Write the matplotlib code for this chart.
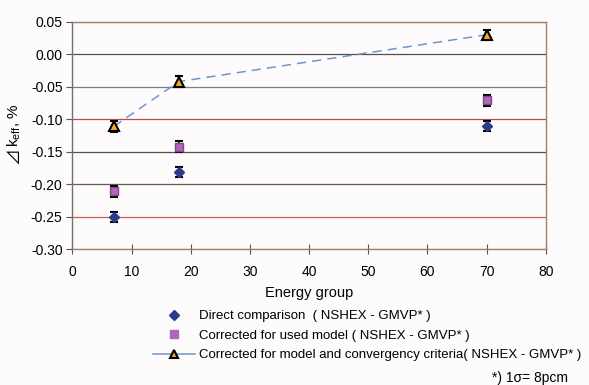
import matplotlib.pyplot as plt
from matplotlib.lines import Line2D

plt.rcParams['font.family'] = ['Liberation Sans', 'DejaVu Sans']

# energy groups
groups = [7, 18, 70]

# delta k_eff, %
direct = [-0.250, -0.181, -0.110]
corr_model = [-0.211, -0.142, -0.071]
corr_conv = [-0.111, -0.042, 0.030]
sigma = 0.008   # 1 sigma = 8 pcm

yticks = [0.05, 0.00, -0.05, -0.10, -0.15, -0.20, -0.25, -0.30]
grid_cols = ['#d9a080', '#505050', '#7a8088', '#b85040', '#505050', '#6a5a50', '#d06040', '#d9a080']

fig = plt.figure(figsize=(5.89, 3.85), dpi=100, facecolor='#fdfbfb')
ax = fig.add_axes([0.1228, 0.3525, 0.804, 0.591])
ax.set_facecolor('#fdfbfb')

for yv, c in zip(yticks, grid_cols):
    ax.axhline(yv, color=c, lw=0.9, zorder=1)

ax.errorbar(groups, direct, yerr=sigma, fmt='D', ms=5, color='#2c3c8c', mec='#2c3c8c',
            ecolor='black', capsize=3, elinewidth=1.2, capthick=1.5, zorder=3)
ax.errorbar(groups, corr_model, yerr=sigma, fmt='s', ms=6, color='#b067b8', mec='#804888',
            ecolor='black', capsize=3, elinewidth=1.2, capthick=1.5, zorder=3)
ax.plot(groups, corr_conv, ls=(0, (6, 4)), color='#6f96cc', lw=1.1, zorder=2)
ax.errorbar(groups, corr_conv, yerr=sigma, fmt='^', ms=7, color='#f7a820', mec='black', mew=1.5,
            ecolor='black', capsize=3, elinewidth=1.2, capthick=1.5, zorder=3)

ax.set_xlim(0, 80)
ax.set_ylim(-0.30, 0.05)
ax.set_xticks(range(0, 81, 10))
ax.set_yticks(yticks)
ax.set_yticklabels(['%.2f' % v for v in yticks])
ax.tick_params(labelsize=10, length=4, color='#555555')
ax.tick_params(axis='y', direction='out', pad=3)
ax.tick_params(axis='x', direction='inout', length=7, pad=8)
for s in ax.spines.values():
    s.set_color('#a08070')
    s.set_linewidth(1.0)
ax.spines['left'].set_color('#707070')

ax.set_xlabel('Energy group', fontsize=10.5, labelpad=5)
ax.set_ylabel('k$_{\\mathregular{eff}}$, %', fontsize=11, labelpad=2)
ax.yaxis.set_label_coords(-0.105, 0.545)
# delta symbol (right triangle) drawn in a font that has it
ax.annotate('⊿', xy=(0.5, 0), xycoords=ax.yaxis.label, ha='center', va='top',
            rotation=90, fontsize=12, family=['Noto Sans CJK JP'])

handles = [
    Line2D([], [], ls='none', marker='D', ms=5, color='#2c3c8c'),
    Line2D([], [], ls='none', marker='s', ms=6, color='#b067b8', mec='#b067b8'),
    Line2D([], [], ls='-', color='#6f96cc', lw=1.1, marker='^', ms=6, mfc='#f7a820', mec='black', mew=1.5),
]
labels = [
    'Direct comparison  ( NSHEX - GMVP* )',
    'Corrected for used model ( NSHEX - GMVP* )',
    'Corrected for model and convergency criteria( NSHEX - GMVP* )',
]
fig.legend(handles, labels, loc='upper left', bbox_to_anchor=(0.26, 0.195), fontsize=9.5,
           frameon=False, handlelength=3.2, handletextpad=0.3, labelspacing=0.55,
           borderpad=0, borderaxespad=0)
fig.text(0.965, 0.018, '*) 1σ= 8pcm', ha='right', va='center', fontsize=10)

fig.savefig('out.png', dpi=100, facecolor=fig.get_facecolor())
